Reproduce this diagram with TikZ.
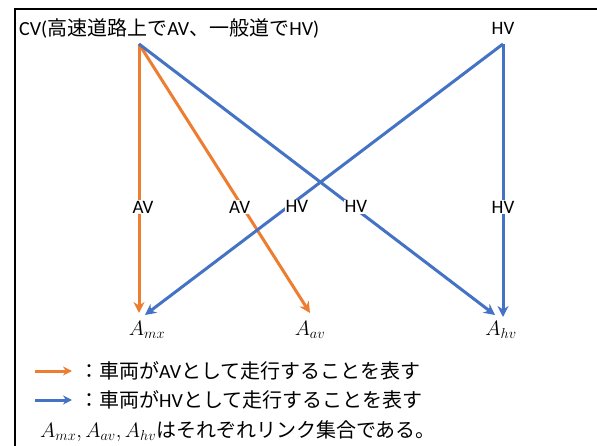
\documentclass[tikz,border=0pt]{standalone}
\usepackage{fontspec}
\setmainfont{Carlito}
\newfontfamily\jp{Noto Sans CJK JP}
\usetikzlibrary{arrows.meta}
\definecolor{org}{HTML}{ED7D31}
\definecolor{blu}{HTML}{4472C4}
\begin{document}
\begin{tikzpicture}[x=1pt,y=-1pt,
  txt/.style={inner sep=0pt,font=\fontsize{20}{24}\selectfont},
  mth/.style={inner sep=0pt,font=\fontsize{21}{24}\selectfont},
  lbl/.style={fill=white,inner sep=1pt,font=\fontsize{19}{22}\selectfont},
  oarr/.style={draw=org,line width=3pt,-{Stealth[length=11pt,width=11pt]}},
  barr/.style={draw=blu,line width=3pt,-{Stealth[length=11pt,width=11pt]}}]
\useasboundingbox (0,0) rectangle (597,446);
\fill[white] (0,0) rectangle (597,446);
\draw[line width=1.3pt] (15,446) -- (15,9) -- (597,9);
% nodes
\node[txt,anchor=west] (cv) at (19,28) {CV({\jp 高速道路上で}AV{\jp 、一般道で}HV)};
\node[lbl,inner sep=0pt] (hv) at (503,28) {HV};
\coordinate (cvp) at (139,44);
\coordinate (hvp) at (503,44);
\node[mth] (amx) at (147,330) {$A_{mx}$};
\node[mth] (aav) at (310,330) {$A_{av}$};
\node[mth] (ahv) at (501,330) {$A_{hv}$};
\coordinate (e1) at (139,313);
\coordinate (e2) at (145,315);
\coordinate (e3) at (310,313);
\coordinate (e4) at (495,315);
\coordinate (e5) at (503,317);
% orange
\draw[oarr] (cvp) -- (e1) node[lbl,pos=0.606,xshift=4pt] (l1) {AV};
\draw[oarr] (cvp) -- (e3) node[lbl,pos=0.606,xshift=-3pt] (l2) {AV};
% blue
\draw[barr] (hvp) -- (e2) node[lbl,pos=0.601,xshift=9pt] (l3) {HV};
\draw[barr] (cvp) -- (e4) node[lbl,pos=0.601,xshift=3pt] (l4) {HV};
\draw[barr] (hvp) -- (e5) node[lbl,pos=0.597] (l5) {HV};
% legend
\coordinate (la1) at (35,371);
\coordinate (la2) at (72,371);
\coordinate (lb1) at (35,400);
\coordinate (lb2) at (72,400);
\draw[oarr,-{Stealth[length=9pt,width=9pt]}] (la1) -- (la2);
\draw[barr,-{Stealth[length=9pt,width=9pt]}] (lb1) -- (lb2);
\node[txt,anchor=west] (leg1) at (79,371) {{\jp ：車両が}AV{\jp として走行することを表す}};
\node[txt,anchor=west] (leg2) at (79,400) {{\jp ：車両が}HV{\jp として走行することを表す}};
\node[txt,anchor=west] (leg3) at (40,431) {$A_{mx}, A_{av}, A_{hv}${\jp はそれぞれリンク集合である。}};
\end{tikzpicture}
\end{document}
